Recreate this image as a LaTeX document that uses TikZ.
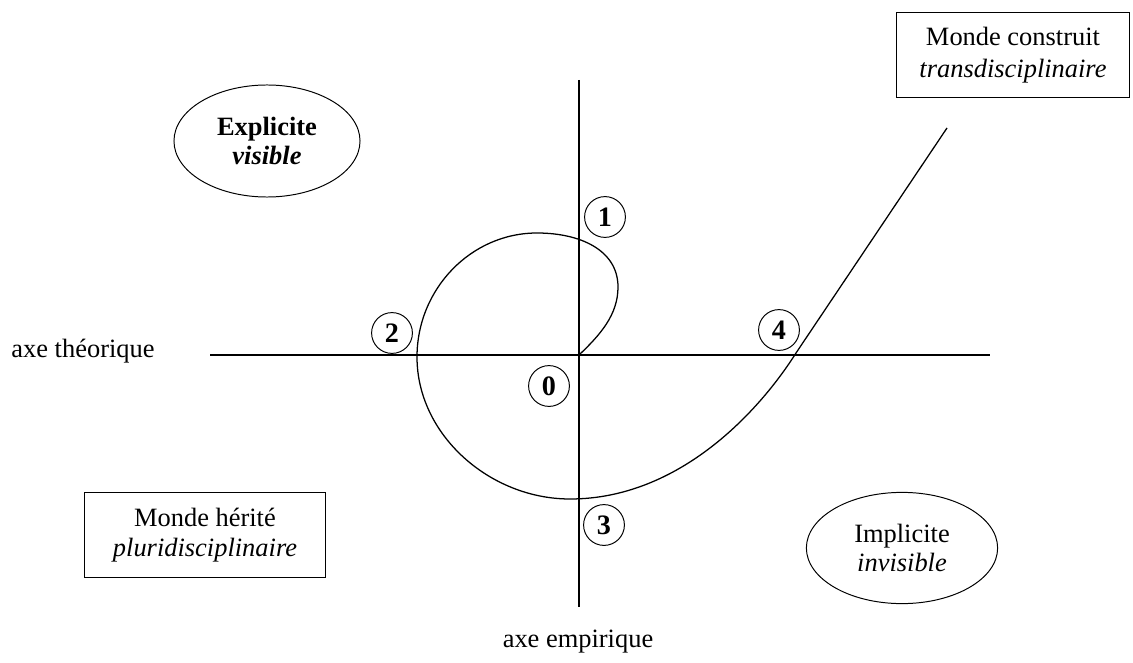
\documentclass[tikz,border=0pt]{standalone}
\usepackage{fontspec}
\setmainfont{Liberation Serif}
\usetikzlibrary{shapes.geometric}
\tikzset{
  axe/.style={line width=0.9pt},
  courbe/.style={line width=0.9pt},
  num/.style={draw, circle, line width=0.7pt, minimum size=1.02cm, inner sep=0pt, font=\fontsize{20}{22}\selectfont\bfseries},
  monde/.style={draw, rectangle, line width=0.7pt, align=center, inner sep=0pt},
  bulle/.style={draw, ellipse, line width=0.7pt, align=center, inner sep=0pt},
}
\begin{document}
\begin{tikzpicture}[x=0.025cm, y=-0.025cm, font=\fontsize{18.8}{21}\selectfont]
\useasboundingbox (0,0) rectangle (1133,663);
% axes
\coordinate (gauche) at (210,355);
\coordinate (droite) at (990,355);
\coordinate (haut) at (579,80);
\coordinate (bas) at (579,607);
\coordinate (O) at (579,355);
\coordinate (fin) at (947,128);
\draw[axe] (gauche) -- (droite);
\draw[axe] (haut) -- (bas);
\node (theo) at (83,351) {axe théorique};
\node (emp) at (578,642) {axe empirique};
% la spirale
\draw[courbe] (O) .. controls (600,335) and (618,315) .. (618,287)
  .. controls (618,250) and (580,233) .. (537,233)
  .. controls (471,233) and (417,289) .. (417,357)
  .. controls (417,435) and (490,499) .. (570,499)
  .. controls (680,499) and (760,410) .. (796,353)
  -- (fin);
% etapes
\node[num] (n0) at (549,386) {0};
\node[num] (n1) at (605,217) {1};
\node[num] (n2) at (392,333) {2};
\node[num] (n3) at (604,525) {3};
\node[num] (n4) at (779,330) {4};
% mondes
\node[monde, minimum width=5.83cm, minimum height=2.13cm] (construit) at (1013,55) {Monde construit\\[2pt] \textit{transdisciplinaire}};
\node[monde, minimum width=6.03cm, minimum height=2.1cm] (herite) at (205,535) {Monde hérité\\ \textit{pluridisciplinaire}};
\node[bulle, minimum width=4.65cm, minimum height=2.8cm] (explicite) at (267,141) {\textbf{Explicite}\\ \textbf{\textit{visible}}};
\node[bulle, minimum width=4.78cm, minimum height=2.78cm] (implicite) at (902,548) {Implicite\\ \textit{invisible}};
\end{tikzpicture}
\end{document}
